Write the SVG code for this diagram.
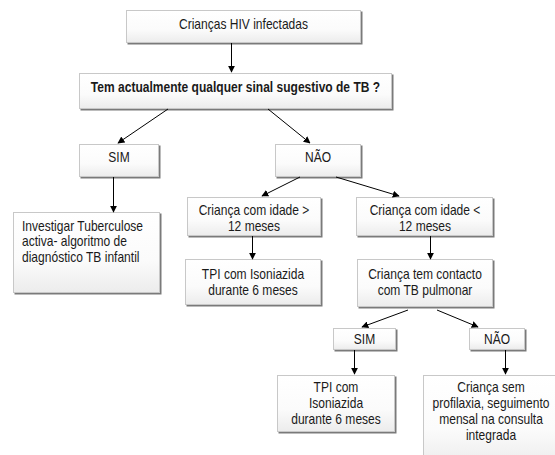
<svg xmlns="http://www.w3.org/2000/svg" width="555" height="455" viewBox="0 0 555 455">
  <defs>
    <linearGradient id="boxFill" x1="0" y1="0" x2="0" y2="1">
      <stop offset="0" stop-color="#ffffff"/>
      <stop offset="0.6" stop-color="#fbfbfb"/>
      <stop offset="1" stop-color="#ececec"/>
    </linearGradient>
    <marker id="arrow" viewBox="0 0 10 10" refX="9" refY="5" markerWidth="7" markerHeight="7" markerUnits="userSpaceOnUse" orient="auto">
      <path d="M0,0 L10,5 L0,10 z" fill="#000"/>
    </marker>
  </defs>
  <style>
    .shadow { fill: #7a7a7a; }
    .box { fill: url(#boxFill); stroke: #c8c8c8; stroke-width: 1; }
    .t { font-family: "Liberation Sans", Arial, sans-serif; font-size: 14px; fill: #1a1a1a; text-anchor: middle; }
    .tl { text-anchor: start; }
    .b { font-weight: bold; }
    .conn line { stroke: #000; stroke-width: 1; marker-end: url(#arrow); }
  </style>
  <rect width="555" height="455" fill="#ffffff"/>

  <!-- text is drawn slightly condensed: matrix(0.86 0 0 1 x 0) puts the anchor at x -->
  <g id="n-criancas-hiv">
    <rect class="shadow" x="127.5" y="11.5" width="235" height="33"/>
    <rect class="box" x="126.5" y="10.5" width="234" height="32"/>
    <text class="t" transform="matrix(0.86 0 0 1 243.5 0)" y="29">Crianças HIV infectadas</text>
  </g>

  <g id="n-sinal-tb">
    <rect class="shadow" x="80.5" y="74.5" width="313" height="36"/>
    <rect class="box" x="79.5" y="73.5" width="312" height="35"/>
    <text class="t b" transform="matrix(0.86 0 0 1 235.5 0)" y="92">Tem actualmente qualquer sinal sugestivo de TB ?</text>
  </g>

  <g id="n-sim">
    <rect class="shadow" x="80.5" y="145.5" width="80" height="33"/>
    <rect class="box" x="79.5" y="144.5" width="79" height="32"/>
    <text class="t" transform="matrix(0.86 0 0 1 119 0)" y="162">SIM</text>
  </g>

  <g id="n-nao">
    <rect class="shadow" x="276.5" y="145.5" width="86" height="33"/>
    <rect class="box" x="275.5" y="144.5" width="85" height="32"/>
    <text class="t" transform="matrix(0.86 0 0 1 318 0)" y="162">NÃO</text>
  </g>

  <g id="n-investigar">
    <rect class="shadow" x="14.5" y="213.5" width="147" height="81"/>
    <rect class="box" x="13.5" y="212.5" width="146" height="80"/>
    <text class="t tl" transform="matrix(0.86 0 0 1 22 0)" y="231">Investigar Tuberculose</text>
    <text class="t tl" transform="matrix(0.86 0 0 1 22 0)" y="246.5">activa- algoritmo de</text>
    <text class="t tl" transform="matrix(0.86 0 0 1 22 0)" y="262">diagnóstico TB infantil</text>
  </g>

  <g id="n-idade-maior">
    <rect class="shadow" x="188.5" y="198.5" width="134" height="39"/>
    <rect class="box" x="187.5" y="197.5" width="133" height="38"/>
    <text class="t" transform="matrix(0.86 0 0 1 254 0)" y="215">Criança com idade &gt;</text>
    <text class="t" transform="matrix(0.86 0 0 1 254 0)" y="231">12 meses</text>
  </g>

  <g id="n-tpi-6m">
    <rect class="shadow" x="186.5" y="260.5" width="136" height="46"/>
    <rect class="box" x="185.5" y="259.5" width="135" height="45"/>
    <text class="t" transform="matrix(0.86 0 0 1 253 0)" y="279">TPI com Isoniazida</text>
    <text class="t" transform="matrix(0.86 0 0 1 253 0)" y="295">durante 6 meses</text>
  </g>

  <g id="n-idade-menor">
    <rect class="shadow" x="357.5" y="198.5" width="137" height="39"/>
    <rect class="box" x="356.5" y="197.5" width="136" height="38"/>
    <text class="t" transform="matrix(0.86 0 0 1 425 0)" y="215">Criança com idade &lt;</text>
    <text class="t" transform="matrix(0.86 0 0 1 425 0)" y="231">12 meses</text>
  </g>

  <g id="n-contacto">
    <rect class="shadow" x="358.5" y="260.5" width="136" height="48"/>
    <rect class="box" x="357.5" y="259.5" width="135" height="47"/>
    <text class="t" transform="matrix(0.86 0 0 1 425 0)" y="279">Criança tem contacto</text>
    <text class="t" transform="matrix(0.86 0 0 1 425 0)" y="295">com TB pulmonar</text>
  </g>

  <g id="n-sim-contacto">
    <rect class="shadow" x="334.5" y="329.5" width="63" height="22"/>
    <rect class="box" x="333.5" y="328.5" width="62" height="21"/>
    <text class="t" transform="matrix(0.86 0 0 1 364.5 0)" y="344">SIM</text>
  </g>

  <g id="n-nao-contacto">
    <rect class="shadow" x="470.5" y="329.5" width="56" height="22"/>
    <rect class="box" x="469.5" y="328.5" width="55" height="21"/>
    <text class="t" transform="matrix(0.86 0 0 1 497 0)" y="344">NÃO</text>
  </g>

  <g id="n-tpi-contacto">
    <rect class="shadow" x="278.5" y="376.5" width="118" height="57"/>
    <rect class="box" x="277.5" y="375.5" width="117" height="56"/>
    <text class="t" transform="matrix(0.86 0 0 1 336 0)" y="392">TPI com</text>
    <text class="t" transform="matrix(0.86 0 0 1 336 0)" y="408">Isoniazida</text>
    <text class="t" transform="matrix(0.86 0 0 1 336 0)" y="424">durante 6 meses</text>
  </g>

  <g id="n-sem-profilaxia">
    <rect class="box" x="423.5" y="375.5" width="140" height="90"/>
    <text class="t" transform="matrix(0.86 0 0 1 491 0)" y="392">Criança sem</text>
    <text class="t" transform="matrix(0.86 0 0 1 491 0)" y="408">profilaxia, seguimento</text>
    <text class="t" transform="matrix(0.86 0 0 1 491 0)" y="424">mensal na consulta</text>
    <text class="t" transform="matrix(0.86 0 0 1 491 0)" y="440">integrada</text>
  </g>

  <g id="connectors" class="conn">
    <line x1="231.5" y1="43" x2="231.5" y2="72"/>
    <line x1="168" y1="109" x2="118" y2="143"/>
    <line x1="268" y1="109" x2="310" y2="143"/>
    <line x1="113.5" y1="177" x2="113.5" y2="212"/>
    <line x1="300" y1="177" x2="262" y2="196"/>
    <line x1="336" y1="177" x2="399" y2="196"/>
    <line x1="252.5" y1="236" x2="252.5" y2="259"/>
    <line x1="430.5" y1="236" x2="430.5" y2="259"/>
    <line x1="408" y1="310" x2="362" y2="327"/>
    <line x1="437" y1="310" x2="478" y2="327"/>
    <line x1="354.5" y1="350" x2="354.5" y2="374"/>
    <line x1="505.5" y1="350" x2="505.5" y2="374"/>
  </g>
</svg>
